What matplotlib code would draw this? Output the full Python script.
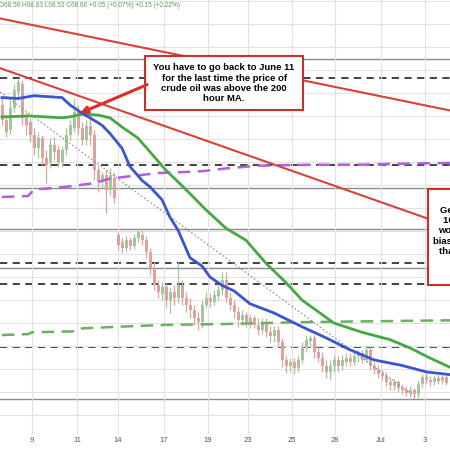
import numpy as np
import matplotlib.pyplot as plt
from matplotlib.patches import Rectangle

plt.rcParams['font.family'] = ['Liberation Sans', 'DejaVu Sans']

# hourly candles, crude oil (one slot per candle)
opens = [71.62, 71.46, 71.35, 71.59, 71.76, 71.85, 71.48, 71.43, 71.29, 71.15,
         71.26, 71.04, 71.00, 71.19, 71.13, 71.00, 71.13, 71.29, 71.37, 71.54,
         71.37, 71.24, 71.39, 71.29, 70.91, 70.78, 70.86, 70.70, 70.83, 70.21,
         70.13, 70.07, 70.15, 70.09, 70.17, 70.21, 70.15, 70.02, 69.85, 69.66,
         69.57, 69.64, 69.50, 69.59, 69.52, 69.66, 69.52, 69.45, 69.39, 69.31,
         69.26, 69.45, 69.52, 69.48, 69.54, 69.61, 69.72, 69.52, 69.45, 69.37,
         69.28, 69.34, 69.26, 69.31, 69.23, 69.17, 69.26, 69.15, 69.11, 69.17,
         69.04, 68.85, 68.78, 68.83, 68.76, 68.85, 68.98, 69.05, 69.09, 68.94,
         68.87, 68.78, 68.72, 68.78, 68.85, 68.78, 68.83, 68.87, 68.83, 68.89,
         68.92, 68.85, 68.96, 68.78, 68.74, 68.70, 68.68, 68.61, 68.57, 68.61,
         68.54, 68.52, 68.49, 68.52, 68.48, 68.59, 68.66, 68.63, 68.61, 68.65,
         68.62, 68.66]
closes = [71.46, 71.33, 71.59, 71.78, 71.87, 71.48, 71.40, 71.29, 71.15, 71.26,
          71.04, 70.97, 71.19, 71.11, 71.00, 71.13, 71.29, 71.40, 71.54, 71.37,
          71.24, 71.39, 71.29, 70.91, 70.78, 70.86, 70.70, 70.86, 70.61, 70.10,
          70.07, 70.15, 70.09, 70.17, 70.24, 70.15, 70.02, 69.85, 69.66, 69.59,
          69.64, 69.50, 69.59, 69.52, 69.66, 69.52, 69.45, 69.39, 69.31, 69.26,
          69.45, 69.52, 69.48, 69.56, 69.61, 69.72, 69.52, 69.45, 69.37, 69.28,
          69.34, 69.26, 69.31, 69.23, 69.17, 69.26, 69.15, 69.11, 69.17, 69.04,
          68.85, 68.78, 68.83, 68.76, 68.85, 68.98, 69.07, 69.09, 68.94, 68.87,
          68.78, 68.72, 68.78, 68.85, 68.78, 68.85, 68.87, 68.83, 68.89, 68.92,
          68.85, 68.96, 68.78, 68.74, 68.70, 68.68, 68.61, 68.58, 68.61, 68.54,
          68.52, 68.49, 68.52, 68.48, 68.59, 68.66, 68.63, 68.61, 68.65, 68.62,
          68.66, 68.60]
highs = [71.70, 71.51, 71.67, 71.85, 71.91, 71.89, 71.54, 71.48, 71.37, 71.33,
         71.29, 71.13, 71.26, 71.27, 71.19, 71.17, 71.37, 71.46, 71.70, 71.62,
         71.43, 71.46, 71.48, 71.35, 70.97, 70.89, 70.91, 70.93, 70.89, 70.24,
         70.17, 70.20, 70.19, 70.22, 70.28, 70.26, 70.20, 70.07, 69.91, 69.72,
         69.70, 69.69, 69.63, 69.66, 69.91, 69.72, 69.59, 69.52, 69.45, 69.37,
         69.50, 69.59, 69.58, 69.61, 69.66, 69.81, 69.81, 69.59, 69.50, 69.43,
         69.39, 69.37, 69.35, 69.34, 69.31, 69.31, 69.31, 69.22, 69.22, 69.22,
         69.09, 68.90, 68.87, 68.87, 68.90, 69.04, 69.12, 69.12, 69.12, 69.00,
         68.94, 68.85, 68.85, 68.90, 68.89, 68.90, 68.92, 68.92, 68.94, 68.96,
         68.96, 69.01, 69.00, 68.83, 68.80, 68.74, 68.72, 68.65, 68.65, 68.63,
         68.59, 68.57, 68.57, 68.54, 68.63, 68.70, 68.71, 68.67, 68.69, 68.69,
         68.70, 68.69]
lows = [71.40, 71.27, 71.30, 71.54, 71.67, 71.40, 71.29, 71.22, 71.08, 71.04,
        70.97, 70.77, 70.93, 71.02, 70.95, 70.95, 71.08, 71.24, 71.33, 71.30,
        71.19, 71.19, 71.19, 70.80, 70.67, 70.72, 70.45, 70.64, 70.55, 70.04,
        70.01, 70.02, 70.04, 70.05, 70.13, 70.10, 69.96, 69.77, 69.61, 69.52,
        69.50, 69.41, 69.36, 69.45, 69.47, 69.45, 69.37, 69.31, 69.23, 69.17,
        69.20, 69.41, 69.43, 69.45, 69.50, 69.56, 69.47, 69.39, 69.31, 69.21,
        69.23, 69.21, 69.20, 69.20, 69.12, 69.13, 69.10, 69.04, 69.04, 69.00,
        68.77, 68.71, 68.72, 68.70, 68.72, 68.81, 68.94, 68.98, 68.87, 68.83,
        68.72, 68.65, 68.63, 68.72, 68.72, 68.74, 68.78, 68.78, 68.80, 68.83,
        68.82, 68.83, 68.74, 68.70, 68.65, 68.63, 68.57, 68.52, 68.52, 68.50,
        68.48, 68.46, 68.45, 68.44, 68.44, 68.55, 68.59, 68.57, 68.58, 68.59,
        68.59, 68.58]

day_labels = ['9', '11', '14', '17', '19', '23', '25', '28', 'Jul', '3']
day_pos = [7.5, 18.75, 29, 40.5, 51.5, 61.5, 72.5, 83.25, 94.75, 105.75]

# 100 hour MA (blue) / 200 hour MA (green)
ma100_x = [0, 4, 8, 15, 17, 20, 22, 25, 27, 30, 32, 35, 37, 40, 42, 44, 47, 50,
           52, 55, 58, 62, 68, 75, 81, 87, 93, 100, 106, 112]
ma100 = [71.70, 71.69, 71.72, 71.70, 71.62, 71.53, 71.48, 71.40, 71.31, 71.15,
         70.95, 70.80, 70.73, 70.59, 70.40, 70.26, 69.96, 69.87, 69.75, 69.66,
         69.60, 69.46, 69.36, 69.21, 69.09, 68.96, 68.85, 68.79, 68.72, 68.69]
ma200_x = [0, 7, 15, 17, 20, 24, 27, 30, 34, 37, 41, 46, 51, 56, 61, 66, 71, 75,
           83, 90, 97, 102, 107, 112]
ma200 = [71.49, 71.50, 71.48, 71.49, 71.52, 71.51, 71.48, 71.38, 71.26, 71.11,
         70.91, 70.70, 70.48, 70.28, 70.15, 69.90, 69.69, 69.50, 69.25, 69.15,
         69.07, 68.98, 68.87, 68.77]

# daily MAs (stepped dashed lines)
dma_purple_x = [0, 6.5, 8, 16, 23, 27, 33, 39, 45, 50, 56, 64, 77, 89, 98, 112]
dma_purple = [70.62, 70.63, 70.70, 70.73, 70.77, 70.82, 70.85, 70.88, 70.89,
              70.90, 70.93, 70.96, 70.97, 70.97, 70.98, 70.99]
dma_green_x = [0, 6.5, 7.5, 17.75, 18.75, 29, 40.5, 56, 74.5, 112]
dma_green = [69.12, 69.13, 69.15, 69.16, 69.19, 69.21, 69.23, 69.24, 69.26, 69.28]

# trend lines
trend_x = [-0.5, 103.25]
trend_y = [71.76, 68.45]
red_top_x = [-0.5, 112]
red_top_y = [72.56, 71.56]
red_low_x = [-0.5, 112]
red_low_y = [72.02, 70.30]

solid_levels = [72.12, 70.72, 70.27, 69.85, 68.43]
dashed_levels = [71.91, 70.97, 69.90, 69.67, 68.99]

header = 'O68.56 H68.63 L68.53 C68.60 +0.05 (+0.07%) +0.15 (+0.22%)'
note1 = 'You have to go back to June 11\nfor the last time the price of\ncrude oil was above the 200\nhour MA.'
note2 = 'Getting above\n100 hour MA\nwould shift the\nbias more bullish\nthan the bears'


def make_chart():
    fig = plt.figure(figsize=(4.5, 4.5), dpi=100)
    ax = fig.add_axes([0, 16 / 450, 1, 434 / 450])
    ax.set_xlim(-0.5, 112)
    ax.set_ylim(68.045, 72.76)

    # grid
    ax.set_yticks(np.arange(68.25, 72.76, 0.25))
    ax.set_xticks(day_pos)
    ax.set_xticklabels(day_labels)
    ax.tick_params(axis='x', length=0, labelsize=5.5, colors='#555555', pad=2)
    ax.tick_params(axis='y', length=0, labelleft=False)
    ax.grid(True, color='#e2e2e2', lw=0.8, zorder=0)
    for s in ax.spines.values():
        s.set_visible(False)

    for lv in solid_levels:
        ax.axhline(lv, color='#8a8a8a', lw=1.0, zorder=1)
    for lv in dashed_levels:
        ax.axhline(lv, color='#333333', lw=1.3, ls=(0, (4, 3)), zorder=1)

    # candles
    x = np.arange(len(closes))
    o = np.array(opens)
    c = np.array(closes)
    up = c >= o
    cols = np.where(up, '#a3c69c', '#dba4a0')
    ax.vlines(x, lows, highs, colors=cols, lw=0.9, zorder=2)
    body = np.maximum(np.abs(c - o), 0.012)
    ax.bar(x, body, bottom=np.minimum(o, c), width=0.75, color=cols, lw=0, zorder=2)

    ax.plot(dma_purple_x, dma_purple, color='#b15ee0', lw=1.8, ls=(0, (5, 3)), zorder=3)
    ax.plot(dma_green_x, dma_green, color='#6bb05f', lw=1.8, ls=(0, (5, 3)), zorder=3)
    ax.plot(trend_x, trend_y, color='#8a8a8a', lw=0.8, ls=(0, (1.5, 2)), zorder=3)
    ax.plot(ma200_x, ma200, color='#45a845', lw=2.0, zorder=3)
    ax.plot(ma100_x, ma100, color='#3a55d0', lw=2.0, zorder=3)

    ax.plot(red_top_x, red_top_y, color='#d9403a', lw=1.5, zorder=4)
    ax.plot(red_low_x, red_low_y, color='#d9403a', lw=1.5, zorder=4)

    # note boxes
    ax.add_patch(Rectangle((0.322, 0.747), 0.351, 0.124, transform=ax.transAxes,
                           facecolor='white', edgecolor='#c8302c', lw=1.5,
                           zorder=5, clip_on=False))
    ax.text(0.498, 0.808, note1, transform=ax.transAxes, ha='center', va='center',
            fontsize=6.8, fontweight='bold', linespacing=1.2, zorder=6)
    ax.add_patch(Rectangle((0.951, 0.343), 0.25, 0.222, transform=ax.transAxes,
                           facecolor='white', edgecolor='#c8302c', lw=1.5,
                           zorder=5, clip_on=False))
    ax.text(0.962, 0.468, note2, transform=ax.transAxes, ha='left', va='center',
            multialignment='center', fontsize=6.8, fontweight='bold',
            linespacing=1.2, zorder=6, clip_on=False)

    ax.annotate('', xy=(19.5, 71.53), xycoords='data',
                xytext=(0.327, 0.805), textcoords='axes fraction',
                arrowprops=dict(arrowstyle='-|>', color='#d9302a', lw=2.2,
                                mutation_scale=10, shrinkA=0, shrinkB=0),
                zorder=6)

    ax.text(-0.003, 0.987, header, transform=ax.transAxes, ha='left', va='center',
            fontsize=4.7, color='#5c9c5c', zorder=6)

    fig.savefig('out.png', dpi=100)
    plt.close(fig)


if __name__ == '__main__':
    make_chart()
